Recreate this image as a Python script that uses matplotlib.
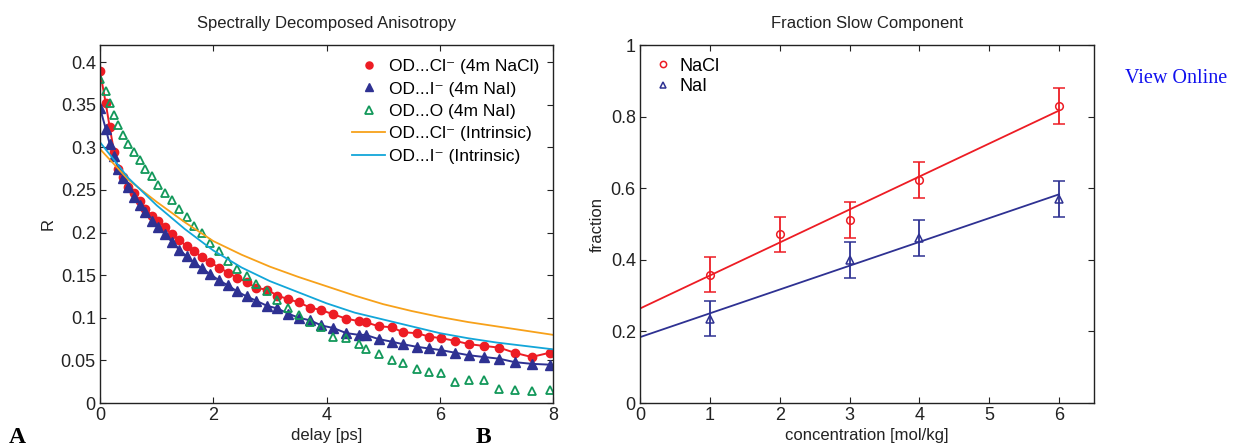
import numpy as np
import matplotlib
matplotlib.use("Agg")
import matplotlib.pyplot as plt
from matplotlib.lines import Line2D

plt.rcParams['font.family'] = ['Liberation Sans', 'DejaVu Sans']

# --- panel A: anisotropy decays ---
t_delay = [0.0, 0.1, 0.17, 0.25, 0.32, 0.41, 0.5, 0.6, 0.7, 0.8, 0.91, 1.03,
           1.15, 1.27, 1.4, 1.53, 1.66, 1.8, 1.95, 2.1, 2.26, 2.42, 2.59, 2.76,
           2.95, 3.13, 3.32, 3.51, 3.71, 3.91, 4.12, 4.35, 4.57, 4.69, 4.92,
           5.15, 5.35, 5.59, 5.81, 6.03, 6.27, 6.52, 6.78, 7.05, 7.32, 7.62, 7.94]

r_cl_nacl = [0.389, 0.352, 0.324, 0.294, 0.274, 0.265, 0.253, 0.246, 0.237, 0.228,
             0.220, 0.214, 0.206, 0.198, 0.191, 0.184, 0.178, 0.171, 0.165, 0.159,
             0.153, 0.147, 0.142, 0.135, 0.133, 0.126, 0.122, 0.118, 0.112, 0.109,
             0.104, 0.099, 0.096, 0.095, 0.090, 0.089, 0.083, 0.082, 0.078, 0.076,
             0.073, 0.069, 0.067, 0.065, 0.059, 0.054, 0.059]

r_i_nai = [0.346, 0.322, 0.304, 0.290, 0.275, 0.264, 0.253, 0.242, 0.232, 0.224,
           0.214, 0.206, 0.198, 0.189, 0.180, 0.172, 0.165, 0.158, 0.151, 0.144,
           0.138, 0.131, 0.125, 0.120, 0.114, 0.111, 0.105, 0.100, 0.097, 0.091,
           0.088, 0.082, 0.080, 0.080, 0.075, 0.072, 0.069, 0.066, 0.064, 0.062,
           0.059, 0.056, 0.054, 0.052, 0.048, 0.046, 0.045]

r_o_nai = [0.380, 0.366, 0.352, 0.338, 0.326, 0.314, 0.304, 0.295, 0.285, 0.275,
           0.266, 0.256, 0.247, 0.238, 0.228, 0.218, 0.208, 0.199, 0.188, 0.178,
           0.167, 0.157, 0.149, 0.140, 0.132, 0.121, 0.111, 0.103, 0.095, 0.089,
           0.078, 0.076, 0.069, 0.063, 0.057, 0.051, 0.047, 0.040, 0.036, 0.035,
           0.025, 0.027, 0.027, 0.016, 0.015, 0.014, 0.015]

t_intr = [0.0, 0.5, 1.0, 1.5, 2.0, 2.5, 3.0, 3.5, 4.0, 4.5, 5.0, 5.5, 6.0, 6.5, 7.0, 7.5, 8.0]
r_cl_intr = [0.298, 0.262, 0.236, 0.212, 0.190, 0.174, 0.160, 0.148, 0.137, 0.126,
             0.116, 0.108, 0.101, 0.095, 0.090, 0.085, 0.080]
r_i_intr = [0.306, 0.264, 0.232, 0.204, 0.179, 0.159, 0.143, 0.130, 0.117, 0.106,
            0.098, 0.090, 0.082, 0.076, 0.071, 0.067, 0.063]

# --- panel B: slow fraction vs concentration ---
conc_nacl = [1, 2, 3, 4, 6]
frac_nacl = [0.359, 0.471, 0.511, 0.622, 0.830]
err_nacl = [0.05, 0.05, 0.05, 0.05, 0.05]
conc_nai = [1, 3, 4, 6]
frac_nai = [0.236, 0.399, 0.462, 0.571]
err_nai = [0.05, 0.05, 0.05, 0.05]
fit_conc = [0, 6]
fit_nacl = [0.264, 0.817]
fit_nai = [0.184, 0.583]

RED = '#ed1c24'
NAVY = '#2e3192'
GREEN = '#12985a'
ORANGE = '#f7a11a'
CYAN = '#12a6d9'
TXT = '#222222'

fig = plt.figure(figsize=(12.35, 4.48), dpi=100)


def style_axes(ax):
    ax.tick_params(direction='in', top=True, right=True, length=4, width=0.8,
                   labelsize=13, colors=TXT, pad=3)
    for s in ax.spines.values():
        s.set_color(TXT)
        s.set_linewidth(1.0)


axA = fig.add_axes([0.081, 0.1004, 0.3668, 0.799])
axA.plot(t_delay, r_cl_nacl, color=RED, lw=1.4)
axA.plot(t_delay, r_i_nai, color=NAVY, lw=1.4)
axA.plot(t_delay, r_cl_nacl, 'o', color=RED, ms=6, ls='none', label='OD...Cl\u207b (4m NaCl)')
axA.plot(t_delay, r_i_nai, '^', color=NAVY, ms=6.5, ls='none', label='OD...I\u207b (4m NaI)')
axA.plot(t_delay, r_o_nai, '^', mfc='none', mec=GREEN, mew=1.3, ms=6, ls='none',
         label='OD...O (4m NaI)')
axA.plot(t_intr, r_cl_intr, color=ORANGE, lw=1.3, label='OD...Cl\u207b (Intrinsic)')
axA.plot(t_intr, r_i_intr, color=CYAN, lw=1.3, label='OD...I\u207b (Intrinsic)')
axA.set_xlim(0, 8)
axA.set_ylim(0, 0.42)
axA.set_xticks([0, 2, 4, 6, 8])
axA.set_yticks(np.arange(0, 0.41, 0.05))
axA.set_yticklabels(['0', '0.05', '0.1', '0.15', '0.2', '0.25', '0.3', '0.35', '0.4'])
style_axes(axA)
axA.set_xlabel('delay [ps]', fontsize=12, color=TXT, labelpad=3)
axA.set_ylabel('R', fontsize=12, color=TXT, labelpad=4)
axA.set_title('Spectrally Decomposed Anisotropy', fontsize=12, color=TXT, pad=12)
axA.legend(loc='upper right', frameon=False, fontsize=12.5, handlelength=1.9,
           handletextpad=0.2, labelspacing=0.42, borderaxespad=0.4, markerscale=0.85)

axB = fig.add_axes([0.5182, 0.1004, 0.3676, 0.799])
axB.plot(fit_conc, fit_nacl, color=RED, lw=1.3)
axB.plot(fit_conc, fit_nai, color=NAVY, lw=1.3)
axB.errorbar(conc_nacl, frac_nacl, yerr=err_nacl, fmt='o', color=RED, mfc='none',
             ms=5.5, mew=1.1, elinewidth=1.3, capsize=4, capthick=1.3)
axB.errorbar(conc_nai, frac_nai, yerr=err_nai, fmt='^', color=NAVY, mfc='none',
             ms=6, mew=1.1, elinewidth=1.3, capsize=4, capthick=1.3)
axB.set_xlim(0, 6.5)
axB.set_ylim(0, 1)
axB.set_xticks([0, 1, 2, 3, 4, 5, 6])
axB.set_yticks([0, 0.2, 0.4, 0.6, 0.8, 1.0])
axB.set_yticklabels(['0', '0.2', '0.4', '0.6', '0.8', '1'])
style_axes(axB)
axB.set_xlabel('concentration [mol/kg]', fontsize=12, color=TXT, labelpad=3)
axB.set_ylabel('fraction', fontsize=12, color=TXT, labelpad=4)
axB.set_title('Fraction Slow Component', fontsize=12, color=TXT, pad=12)
legend_handles = [
    Line2D([], [], marker='o', ls='none', color=RED, mfc='none', ms=4.5, mew=1.1),
    Line2D([], [], marker='^', ls='none', color=NAVY, mfc='none', ms=4.5, mew=1.1),
]
axB.legend(legend_handles, ['NaCl', 'NaI'], loc='upper left', frameon=False, fontsize=13,
           handlelength=1.2, handletextpad=0.3, labelspacing=0.2, borderaxespad=0.3)

fig.text(0.007, 0.012, 'A', family='Liberation Serif', weight='bold', fontsize=17)
fig.text(0.385, 0.012, 'B', family='Liberation Serif', weight='bold', fontsize=17)
fig.text(0.911, 0.815, 'View Online', family='Liberation Serif', fontsize=14.5, color='#1010ee')

fig.savefig('out.png', dpi=100)
